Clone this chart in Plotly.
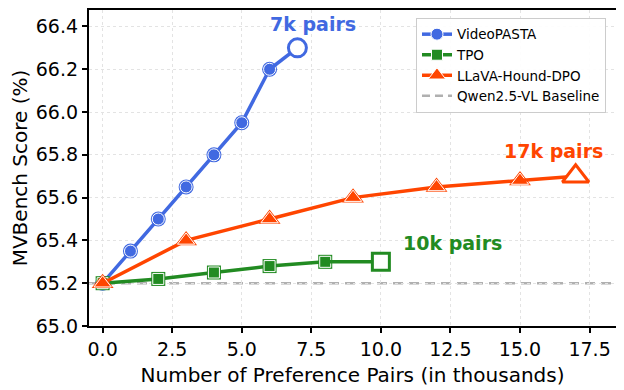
import plotly.graph_objects as go

# data
pasta_x = [0, 1, 2, 3, 4, 5, 6, 7]
pasta_y = [65.2, 65.35, 65.5, 65.65, 65.8, 65.95, 66.2, 66.3]
tpo_x = [0, 2, 4, 6, 8, 10]
tpo_y = [65.2, 65.22, 65.25, 65.28, 65.30, 65.30]
hound_x = [0, 3, 6, 9, 12, 15, 17]
hound_y = [65.2, 65.4, 65.5, 65.6, 65.65, 65.68, 65.70]
baseline = 65.2

# name, x, y, colour, symbol, (halo, inner, open end) sizes
series = [
    ("VideoPASTA", pasta_x, pasta_y, "#4169E1", "circle", (15, 12, 18)),
    ("TPO", tpo_x, tpo_y, "#228B22", "square", (14, 11, 17)),
    ("LLaVA-Hound-DPO", hound_x, hound_y, "#FF4500", "triangle-up", (19, 15, 23)),
]

fig = go.Figure()

for name, xs, ys, color, sym, (s_halo, s_in, s_end) in series:
    # colored halo under the markers
    fig.add_trace(go.Scatter(
        x=xs[:-1], y=ys[:-1], mode="markers", showlegend=False, hoverinfo="skip",
        marker=dict(symbol=sym, size=s_halo, color=color, line=dict(width=0)),
    ))
    fig.add_trace(go.Scatter(
        x=xs[:-1], y=ys[:-1], mode="lines+markers", name=name,
        line=dict(color=color, width=3.5),
        marker=dict(symbol=sym, size=s_in, color=color, line=dict(color="white", width=1)),
    ))
    # line segment to the open end point
    fig.add_trace(go.Scatter(
        x=xs[-2:], y=ys[-2:], mode="lines", showlegend=False, hoverinfo="skip",
        line=dict(color=color, width=3.5),
    ))
    fig.add_trace(go.Scatter(
        x=xs[-1:], y=ys[-1:], mode="markers", showlegend=False,
        marker=dict(symbol=sym, size=s_end, color="white", line=dict(color=color, width=3)),
    ))

fig.add_hline(y=baseline, line=dict(color="#b0b0b0", width=2.5, dash="10px,6px"), layer="below")
fig.add_trace(go.Scatter(
    x=[None], y=[None], mode="lines", name="Qwen2.5-VL Baseline",
    line=dict(color="#b0b0b0", width=2.5, dash="8px,5px"),
))

# end-point labels
fig.add_annotation(x=pasta_x[-1], y=pasta_y[-1], text="<b>7k pairs</b>", showarrow=False,
                   xshift=16, yshift=24, font=dict(size=19, color="#4169E1"))
fig.add_annotation(x=tpo_x[-1], y=tpo_y[-1], text="<b>10k pairs</b>", showarrow=False,
                   xanchor="left", xshift=20, yshift=19, font=dict(size=19, color="#228B22"))
fig.add_annotation(x=hound_x[-1], y=hound_y[-1], text="<b>17k pairs</b>", showarrow=False,
                   xshift=-22, yshift=25, font=dict(size=19, color="#FF4500"))

axis_common = dict(
    showline=True, linecolor="black", linewidth=2.2, mirror=True,
    ticks="outside", ticklen=5, tickwidth=1.5, tickcolor="black",
    showgrid=True, gridcolor="#e3e3e3", griddash="dot", gridwidth=1,
    zeroline=False, tickfont=dict(size=19, color="black"),
)

fig.update_layout(
    width=616, height=382,
    margin=dict(l=81, r=8, t=0, b=64),
    paper_bgcolor="white", plot_bgcolor="white",
    font=dict(family="DejaVu Sans", color="black"),
    xaxis=dict(
        range=[-0.49, 18.45], tickvals=[0, 2.5, 5, 7.5, 10, 12.5, 15, 17.5],
        ticktext=["0.0", "2.5", "5.0", "7.5", "10.0", "12.5", "15.0", "17.5"],
        title=dict(text="Number of Preference Pairs (in thousands)", font=dict(size=20), standoff=9),
        **axis_common,
    ),
    yaxis=dict(
        range=[65.0, 66.477], tickvals=[65.0, 65.2, 65.4, 65.6, 65.8, 66.0, 66.2, 66.4],
        tickformat=".1f",
        title=dict(text="MVBench Score (%)", font=dict(size=20), standoff=6),
        **axis_common,
    ),
    legend=dict(
        x=0.981, y=0.975, xanchor="right", yanchor="top",
        bgcolor="rgba(255,255,255,0.9)", bordercolor="#cccccc", borderwidth=1,
        font=dict(size=13.5), tracegroupgap=0, itemwidth=30,
    ),
)

fig.write_html("out.html")
